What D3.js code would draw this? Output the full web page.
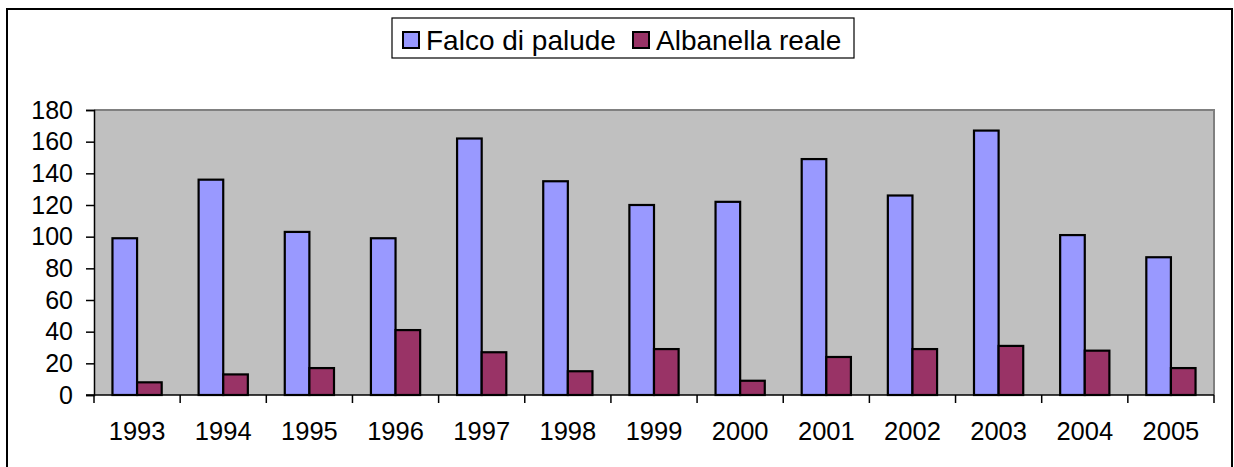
<!DOCTYPE html>
<html>
<head>
<meta charset="utf-8">
<script src="https://cdn.jsdelivr.net/npm/d3@7"></script>
<style>
  html, body { margin: 0; padding: 0; background: #fff; }
  svg { display: block; }
  text { font-family: "Liberation Sans", Arial, sans-serif; fill: #000; }
</style>
</head>
<body>
<svg id="chart" width="1234" height="467"></svg>
<script>
const years = ["1993","1994","1995","1996","1997","1998","1999","2000","2001","2002","2003","2004","2005"];
const falco = [99, 136, 103, 99, 162, 135, 120, 122, 149, 126, 167, 101, 87];
const albanella = [8, 13, 17, 41, 27, 15, 29, 9, 24, 29, 31, 28, 17];
const seriesNames = ["Falco di palude", "Albanella reale"];
const seriesColors = ["#9999FF", "#993366"];
const yTicks = [0, 20, 40, 60, 80, 100, 120, 140, 160, 180];

const svg = d3.select("#chart");

// outer chart border
svg.append("rect").attr("x", 7).attr("y", 9).attr("width", 1225).attr("height", 470)
  .attr("fill", "#fff").attr("stroke", "#000").attr("stroke-width", 2);

const plot = { left: 94, right: 1214, top: 110, bottom: 395 };

const x0 = d3.scaleBand().domain(years).range([plot.left, plot.right]).paddingInner(0).paddingOuter(0);
const x1 = d3.scaleBand().domain(seriesNames).range([0, x0.bandwidth() * 2 / 3.5])
  .paddingInner(0).paddingOuter(0);
const y = d3.scaleLinear().domain([0, 180]).range([plot.bottom, plot.top]);

// plot background
svg.append("rect").attr("x", plot.left).attr("y", plot.top)
  .attr("width", plot.right - plot.left).attr("height", plot.bottom - plot.top)
  .attr("fill", "#C0C0C0");
// gray top & right border
svg.append("path")
  .attr("d", `M${plot.left},${plot.top}H${plot.right}V${plot.bottom}`)
  .attr("fill", "none").attr("stroke", "#808080").attr("stroke-width", 2);

// bars
const data = years.map((yr, i) => ({ yr, vals: [falco[i], albanella[i]] }));
const groupOffset = (x0.bandwidth() - x1.range()[1]) / 2;
const g = svg.append("g").selectAll("g").data(data).join("g")
  .attr("transform", d => `translate(${x0(d.yr) + groupOffset},0)`);
g.selectAll("rect").data(d => d.vals.map((v, j) => ({ v, s: seriesNames[j], c: seriesColors[j] })))
  .join("rect")
  .attr("x", d => x1(d.s))
  .attr("y", d => y(d.v))
  .attr("width", x1.bandwidth())
  .attr("height", d => y(0) - y(d.v))
  .attr("fill", d => d.c)
  .attr("stroke", "#000").attr("stroke-width", 2.2);

// y axis
const yAxis = d3.axisLeft(y).tickValues(yTicks).tickSize(8).tickPadding(13).tickFormat(d3.format("d"));
const ya = svg.append("g").attr("transform", `translate(${plot.left},0)`).call(yAxis);
ya.select(".domain").attr("stroke", "#000").attr("stroke-width", 1.5);
ya.selectAll(".tick line").attr("stroke", "#000").attr("stroke-width", 1.5);
ya.selectAll("text").attr("font-size", 25).style("font-family", "'Liberation Sans', Arial, sans-serif");

// x axis
const xa = svg.append("g").attr("transform", `translate(0,${plot.bottom})`)
  .call(d3.axisBottom(x0).tickSize(0).tickPadding(27));
xa.select(".domain").remove();
xa.selectAll("text").attr("font-size", 25.5).style("font-family", "'Liberation Sans', Arial, sans-serif");
svg.append("line").attr("x1", plot.left - 8).attr("x2", plot.right).attr("y1", plot.bottom).attr("y2", plot.bottom)
  .attr("stroke", "#000").attr("stroke-width", 1.5);
// x boundary ticks
const bounds = years.map(d => x0(d)).concat([plot.right]);
svg.append("g").selectAll("line").data(bounds).join("line")
  .attr("x1", d => d).attr("x2", d => d)
  .attr("y1", plot.bottom).attr("y2", plot.bottom + 8)
  .attr("stroke", "#000").attr("stroke-width", 1.5);

// legend
const lg = svg.append("g");
lg.append("rect").attr("x", 392).attr("y", 18).attr("width", 462).attr("height", 40)
  .attr("fill", "#fff").attr("stroke", "#000").attr("stroke-width", 1.2);
const legendX = [402, 632];
seriesNames.forEach((name, i) => {
  lg.append("rect").attr("x", legendX[i] + 1).attr("y", 32).attr("width", 16).attr("height", 16)
    .attr("fill", seriesColors[i]).attr("stroke", "#000").attr("stroke-width", 2);
  lg.append("text").attr("x", legendX[i] + 24).attr("y", 50)
    .attr("font-size", 28).text(name);
});
</script>
</body>
</html>
